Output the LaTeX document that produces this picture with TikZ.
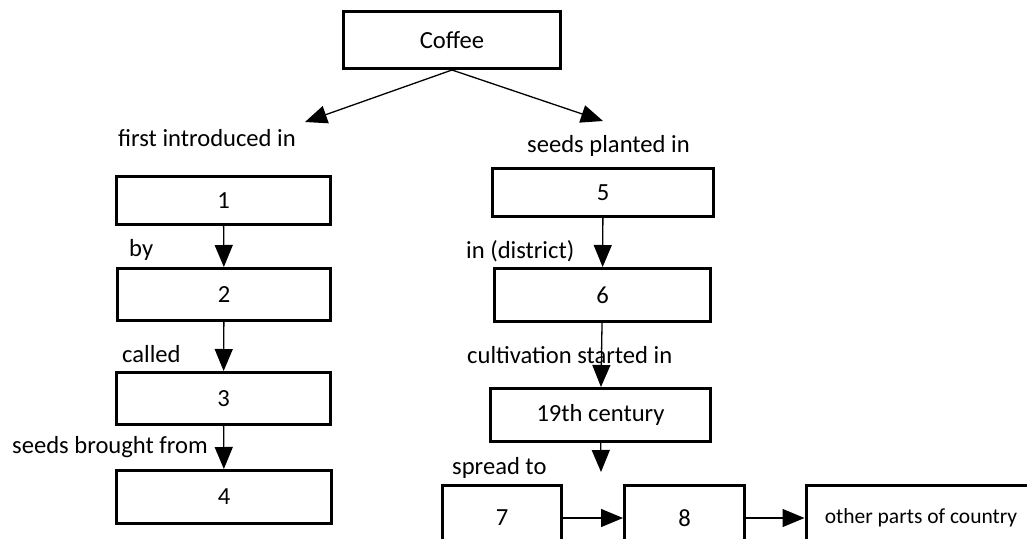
\documentclass[tikz,border=0pt]{standalone}
\usepackage{fontspec}
\setmainfont{Carlito}
\usetikzlibrary{arrows.meta}

\begin{document}
\begin{tikzpicture}[x=1pt,y=-1pt,
  box/.style={draw,line width=3pt,inner sep=0pt,font=\fontsize{24.6}{29}\selectfont},
  lbl/.style={anchor=base west,inner sep=0pt,font=\fontsize{24.6}{29}\selectfont},
  arr/.style={line width=1.3pt,-{Triangle[length=22pt,width=18pt]}}]
\useasboundingbox (0,0) rectangle (1027,538);
\clip (0,0) rectangle (1027,538);

\node[box,minimum width=217pt,minimum height=57pt] (coffee) at (452,40) {Coffee};
\coordinate (lt) at (305,122);
\coordinate (rt) at (603,121);
\draw[arr] (coffee.south) -- (lt);
\draw[arr] (coffee.south) -- (rt);

%-------------------------------------
\node[box,minimum width=214pt,minimum height=48pt] (b1) at (223.5,200.5) {1};
\node[box,minimum width=213pt,minimum height=52pt] (b2) at (224,294.5) {2};
\node[box,minimum width=214pt,minimum height=52pt] (b3) at (223.5,398.5) {3};
\node[box,minimum width=215pt,minimum height=53pt] (b4) at (224,497) {4};
\draw[arr] (b1) -- (b2);
\draw[arr] (b2) -- (b3);
\draw[arr] (b3) -- (b4);

\node[lbl] (lfirst) at (118,146) {first introduced in};
\node[lbl] (lby) at (129,256) {by};
\node[lbl] (lcalled) at (122,362) {called};
\node[lbl] (lfrom) at (12,453) {seeds brought from};

%-------------------------------------
\node[box,minimum width=221pt,minimum height=48pt] (b5) at (603,192.5) {5};
\node[box,minimum width=216pt,minimum height=53pt] (b6) at (602.5,295) {6};
\node[box,minimum width=220pt,minimum height=53pt] (cent) at (600.5,415) {19th century};
\coordinate (down) at (601,472);
\draw[arr] (b5) -- (b6);
\draw[arr] (b6) -- (cent);
\draw[arr] (cent) -- (down);

\node[lbl] (lplanted) at (527,152) {seeds planted in};
\node[lbl] (ldistrict) at (466,258) {in (district)};
\node[lbl] (lstarted) at (467,363) {cultivation started in};
\node[lbl] (lspread) at (452,474) {spread to};

%-------------------------------------
\node[box,minimum width=119pt,minimum height=66pt] (b7) at (502,518) {7};
\node[box,minimum width=120pt,minimum height=66pt] (b8) at (684.5,518) {8};
\node[box,minimum width=230pt,minimum height=66pt,font=\fontsize{21.5}{26}\selectfont] (other) at (921,518) {other parts of country};
\draw[arr] (b7) -- (b8);
\draw[arr] (b8) -- (other);
\end{tikzpicture}
\end{document}
